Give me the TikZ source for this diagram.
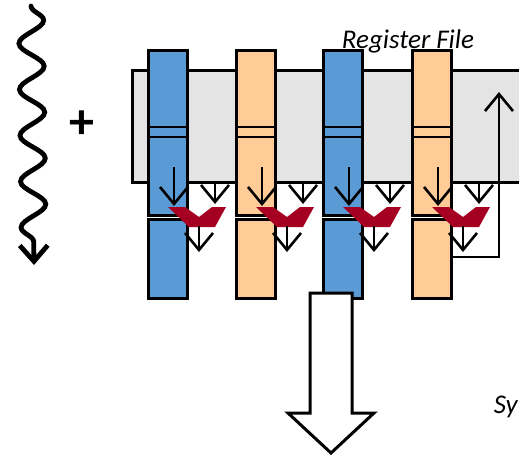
\documentclass[tikz,border=0pt]{standalone}
\usepackage{fontspec}
\setmainfont{Carlito}
\usetikzlibrary{arrows.meta,decorations.pathmorphing}
\definecolor{regblue}{HTML}{5B9BD5}
\definecolor{regorange}{HTML}{FFCB96}
\definecolor{reggray}{HTML}{E4E4E4}
\definecolor{muxred}{HTML}{A50021}
\tikzset{
  colbox/.style={draw=black, line width=2.5pt, minimum width=39pt, inner sep=0pt, anchor=north west},
  arr/.style={line width=2.4pt, -{Straight Barb[length=17pt,width=28pt,line width=2.6pt]}},
  muxshape/.style={fill=muxred, draw=none},
  lbl/.style={font=\itshape\fontsize{27}{30}\selectfont, inner sep=0pt},
}
\begin{document}
\begin{tikzpicture}[x=1pt,y=-1pt]
\useasboundingbox (0,0) rectangle (519,456);
% register file box
\node[draw=black, fill=reggray, line width=3pt, minimum width=420pt, minimum height=112pt, inner sep=0pt, anchor=north west] (rf) at (131,69) {};
\node[lbl, anchor=base] (rftext) at (408,48) {Register File};
% wavy arrow and plus
\coordinate (w0) at (31,6);
\coordinate (w1) at (34,265);
\draw[line width=4.8pt, line cap=round, decorate, decoration={snake, amplitude=12.5pt, segment length=46pt, post length=16pt},
  -{Straight Barb[length=16pt,width=28pt,line width=4.8pt]}] (w0) -- (w1);
\node[font=\bfseries\fontsize{50}{52}\selectfont, inner sep=0pt] (plus) at (82,125) {+};
% columns
\foreach \L/\c [count=\i] in {147/regblue, 235/regorange, 322/regblue, 411/regorange}{
  \node[colbox, fill=\c, minimum height=165pt] (up\i) at (\L,49) {};
  \draw[line width=2.5pt] (\L,127) -- ++(39,0) (\L,137) -- ++(39,0);
  \node[colbox, fill=\c, minimum height=79pt] (lo\i) at (\L,218) {};
  \coordinate (a\i s) at (\L+27,167);
  \coordinate (a\i e) at (\L+27,206);
  \coordinate (b\i s) at (\L+68,181);
  \coordinate (b\i e) at (\L+68,204);
  \coordinate (c\i s) at (\L+52,226);
  \coordinate (c\i e) at (\L+52,252);
  \draw[arr] (a\i s) -- (a\i e);
  \draw[arr] (b\i s) -- (b\i e);
  \fill[muxshape] (\L+21,207) -- (\L+38,207) -- (\L+52,217) -- (\L+65,207) -- (\L+79,207)
     -- (\L+68,227) -- (\L+42,227) -- cycle;
  \draw[arr] (c\i s) -- (c\i e);
}
% feedback path
\coordinate (fb1) at (lo4.east |- 0,257);
\coordinate (fb2) at (499,257);
\coordinate (fb3) at (499,92);
\draw[arr] (fb1) -- (fb2) -- (fb3);
% big hollow arrow
\draw[line width=3pt, fill=white, miter limit=10] (310,293) -- (352,293) -- (352,413) -- (374,413) -- (331,453)
   -- (288,413) -- (310,413) -- cycle;
\node[lbl, anchor=base east] (sy) at (518,413) {Sy};
\end{tikzpicture}
\end{document}
